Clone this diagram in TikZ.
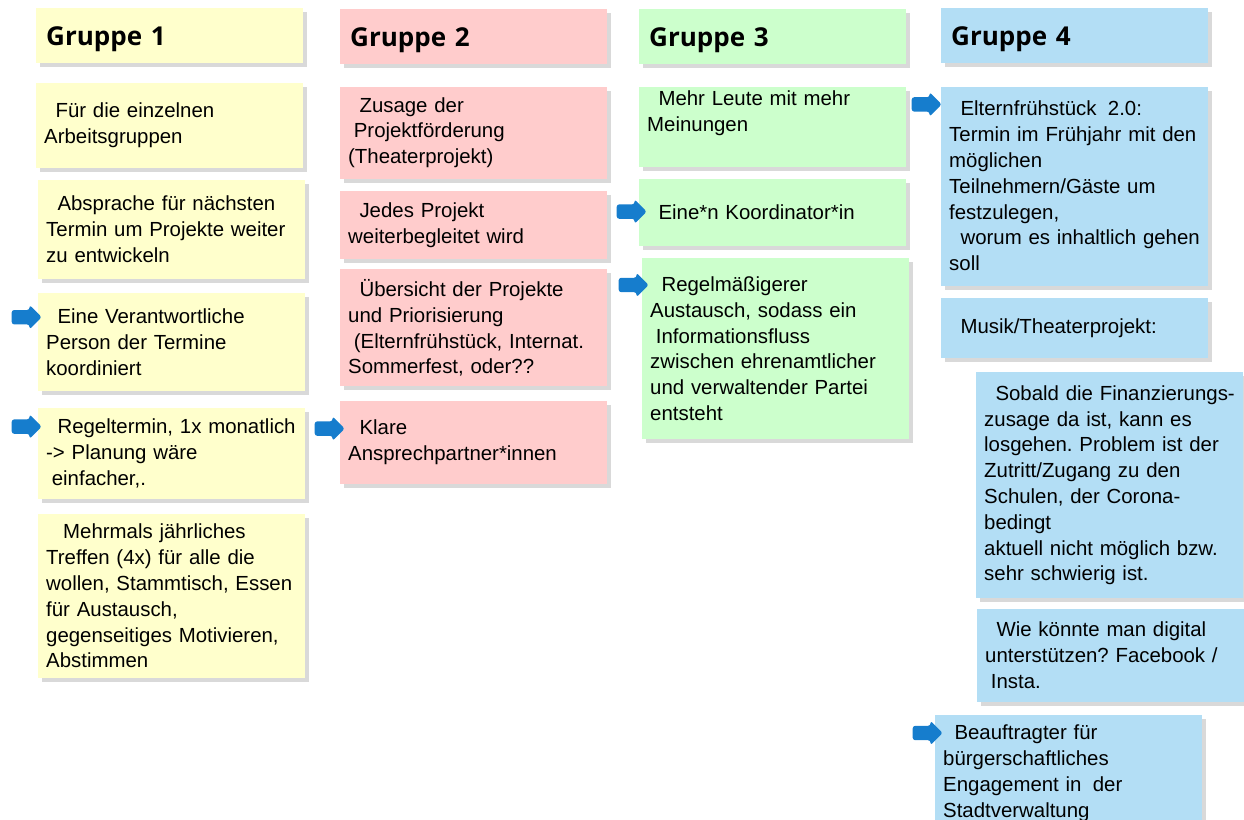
\documentclass[tikz,border=0pt]{standalone}
\usepackage{fontspec}
\setmainfont{Liberation Sans}
\newfontfamily\headfont{Open Sans}
\usetikzlibrary{positioning,shapes.arrows,shadows}
\definecolor{grp1yellow}{RGB}{255,255,204}
\definecolor{grp2red}{RGB}{255,204,204}
\definecolor{grp3green}{RGB}{204,255,204}
\definecolor{grp4blue}{RGB}{179,222,245}
\definecolor{hintblue}{RGB}{22,125,205}
\definecolor{shadowgray}{RGB}{217,217,217}
\newcommand{\lsp}[1][1]{\hspace*{#1\fontdimen2\font}}
\frenchspacing

\begin{document}
\begin{tikzpicture}[
  x=1pt, y=-1pt,
  grouphead/.style={rectangle, anchor=north west, fill=#1, text width=247pt,
              minimum height=55pt, inner xsep=10pt, align=left,
              text depth=0pt,
              font=\headfont\bfseries\fontsize{26}{30}\selectfont,
              drop shadow={shadow xshift=4pt, shadow yshift=-4pt,
                           fill=shadowgray, opacity=1}},
  note/.style={rectangle, fill=#1, text width=251pt, inner xsep=8pt,
              inner ysep=4pt, align=left,
              font=\fontsize{20.4}{25.8}\selectfont,
              drop shadow={shadow xshift=4pt, shadow yshift=-4pt,
                           fill=shadowgray, opacity=1}},
  hint/.style={single arrow, fill=hintblue, minimum height=30pt,
              inner xsep=0pt, inner ysep=7pt, single arrow head extend=5pt,
              rounded corners=2.5pt, anchor=tip}
]
\useasboundingbox (0,0) rectangle (1244,819);

%% group headers
\node[grouphead=grp1yellow] (G1) at (36,8) {Gruppe 1};
\node[grouphead=grp2red]    (G2) at (340,9) {Gruppe 2};
\node[grouphead=grp3green]  (G3) at (639,9) {Gruppe 3};
\node[grouphead=grp4blue]   (G4) at (941,8) {Gruppe 4};

%% Gruppe 1
\node[note=grp1yellow, minimum height=85pt, below=19pt of G1] (G1a)
  {\lsp[2]Für die einzelnen\\Arbeitsgruppen};
\node[note=grp1yellow, minimum height=99pt, below=12pt of G1a, xshift=2pt] (G1b)
  {\lsp[2]Absprache für nächsten\\Termin um Projekte weiter\\zu entwickeln};
\node[note=grp1yellow, minimum height=98pt, below=14pt of G1b] (G1c)
  {\lsp[2]Eine Verantwortliche\\Person der Termine\\koordiniert};
\node[note=grp1yellow, minimum height=91pt, below=16pt of G1c] (G1d)
  {\lsp[2]Regeltermin, 1x monatlich\\-> Planung wäre\\\lsp einfacher,.};
\node[note=grp1yellow, minimum height=164pt, below=15pt of G1d] (G1e)
  {\lsp[3]Mehrmals jährliches\\Treffen (4x) für alle die\\wollen, Stammtisch, Essen\\für Austausch,\\gegenseitiges Motivieren,\\Abstimmen};

%% Gruppe 2
\node[note=grp2red, minimum height=92pt, below=22pt of G2] (G2a)
  {\lsp[2]Zusage der\\\lsp Projektförderung\\(Theaterprojekt)};
\node[note=grp2red, minimum height=68pt, below=12pt of G2a] (G2b)
  {\lsp[2]Jedes Projekt\\weiterbegleitet wird};
\node[note=grp2red, minimum height=117pt, below=10pt of G2b] (G2c)
  {\lsp[2]Übersicht der Projekte\\und Priorisierung\\\lsp(Elternfrühstück, Internat.\\Sommerfest, oder??};
\node[note=grp2red, minimum height=83pt, below=14pt of G2c] (G2d)
  {\lsp[2]Klare\\Ansprechpartner*innen};

%% Gruppe 3
\node[note=grp3green, text depth=58pt, below=22pt of G3] (G3a)
  {\lsp[2]Mehr Leute mit mehr\\Meinungen};
\node[note=grp3green, minimum height=67pt, below=11pt of G3a] (G3b)
  {\lsp[2]Eine*n Koordinator*in};
\node[note=grp3green, minimum height=181pt, below=12pt of G3b, xshift=3pt] (G3c)
  {\lsp[2]Regelmäßigerer\\Austausch, sodass ein\\\lsp Informationsfluss\\zwischen ehrenamtlicher\\und verwaltender Partei\\entsteht};

%% Gruppe 4
\node[note=grp4blue, minimum height=199pt, below=23pt of G4] (G4a)
  {\lsp[2]Elternfrühstück\lsp[2]2.0:\\Termin im Frühjahr mit den\\möglichen\\Teilnehmern/Gäste um\\festzulegen,\\\lsp[2]worum es inhaltlich gehen\\soll};
\node[note=grp4blue, minimum height=60pt, below=12pt of G4a] (G4b)
  {\lsp[2]Musik/Theaterprojekt:};
\node[note=grp4blue, minimum height=226pt, below=14pt of G4b, xshift=35pt] (G4c)
  {\lsp[2]Sobald die Finanzierungs-\\zusage da ist, kann es\\losgehen. Problem ist der\\Zutritt/Zugang zu den\\Schulen, der Corona-\\bedingt\\aktuell nicht möglich bzw.\\sehr schwierig ist.};
\node[note=grp4blue, minimum height=93pt, below=10pt of G4c, xshift=1pt] (G4d)
  {\lsp[2]Wie könnte man digital\\unterstützen? Facebook /\\\lsp Insta.};
\node[note=grp4blue, minimum height=116pt, below=13pt of G4d, xshift=-42pt] (G4e)
  {\lsp[2]Beauftragter für\\bürgerschaftliches\\Engagement in\lsp[2]der\\Stadtverwaltung};

%% blue pointers
\node[hint] (P1c) at ([shift={(4,24)}]G1c.north west) {};
\node[hint] (P1d) at ([shift={(4,19)}]G1d.north west) {};
\node[hint] (P2d) at ([shift={(5,28)}]G2d.north west) {};
\node[hint] (P3b) at ([shift={(8,33)}]G3b.north west) {};
\node[hint] (P3c) at ([shift={(7,27)}]G3c.north west) {};
\node[hint] (P4a) at ([shift={(1,18)}]G4a.north west) {};
\node[hint] (P4e) at ([shift={(8,18)}]G4e.north west) {};

\end{tikzpicture}
\end{document}
